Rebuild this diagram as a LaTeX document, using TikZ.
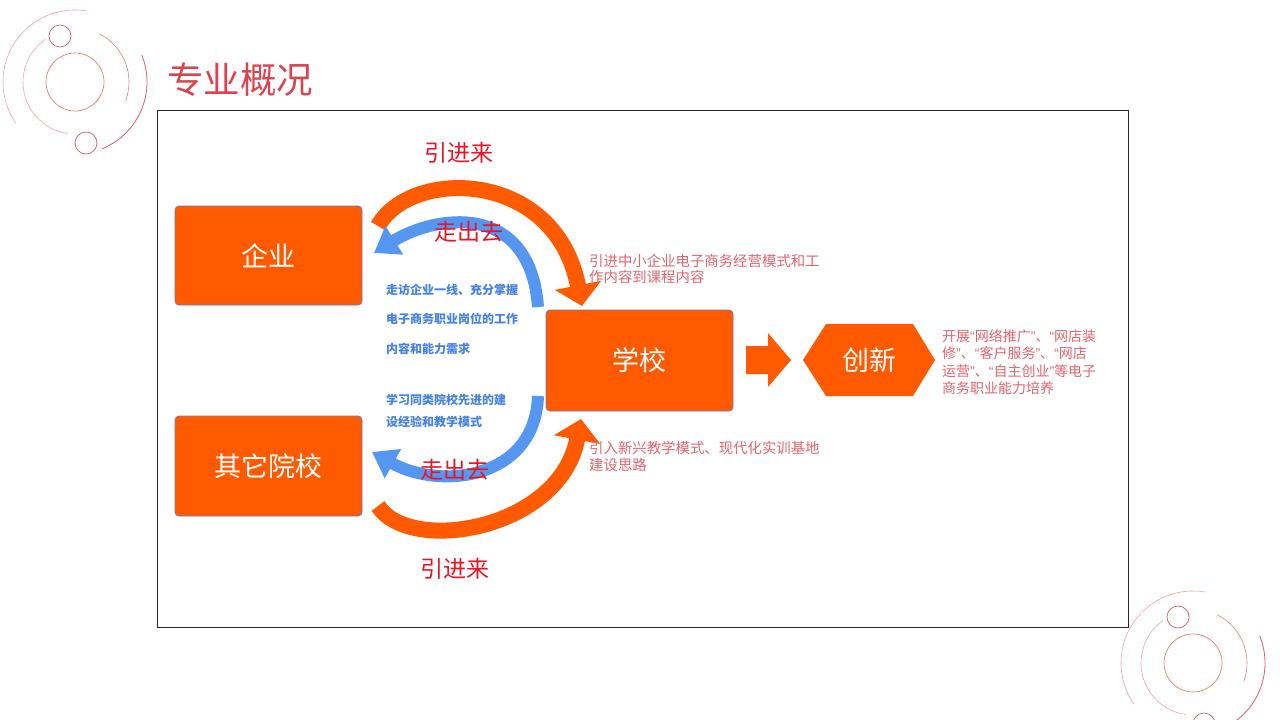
\documentclass[tikz,border=0pt]{standalone}
\usepackage{fontspec}
\setmainfont{Noto Sans CJK SC}
\newfontfamily\lat{Liberation Sans}
\usetikzlibrary{arrows.meta}
\definecolor{orng}{RGB}{255,90,0}
\definecolor{bluA}{RGB}{85,150,240}
\definecolor{bdr}{RGB}{110,120,190}
\definecolor{lblred}{RGB}{235,20,35}
\definecolor{pinktxt}{RGB}{228,100,110}
\definecolor{titlered}{RGB}{222,66,78}
\definecolor{bluetxt}{RGB}{70,130,225}
\definecolor{decocol}{RGB}{215,95,105}
\definecolor{decoinner}{RGB}{235,125,105}
\newcommand{\qq}[1]{{\lat “}#1{\lat ”}}
\begin{document}
\begin{tikzpicture}[x=1pt,y=-1pt,
  box/.style={draw=bdr, line width=0.8pt, fill=orng, rounded corners=4pt, text=white,
    font=\fontsize{27}{30}\selectfont, inner sep=0pt},
  orarrow/.style={draw=orng, line width=16pt, -{Triangle[length=21pt,width=46pt]}},
  blarrow/.style={draw=bluA, line width=12pt, -{Triangle[length=24pt,width=32pt]}},
  biglbl/.style={text=lblred, font=\fontsize{23}{26}\selectfont, inner sep=0pt},
  bluenote/.style={text=bluetxt, font=\fontsize{12}{14}\selectfont\bfseries, inner sep=0pt, anchor=west},
  pinknote/.style={text=pinktxt, font=\fontsize{14.4}{16.8}\selectfont, inner sep=0pt, anchor=west, align=left},
  decopic/.pic={
    \draw[decoinner, line width=0.7pt] (0,0) circle (29pt);
    \draw[decocol, line width=0.7pt] (-15,-46) circle (11pt);
    \draw[decocol, line width=0.7pt] (11,61) circle (11pt);
    \draw[decocol!55, line width=0.6pt] (0,0) ++(80:72pt) arc[start angle=80, end angle=215, radius=72pt];
    \draw[decocol, line width=0.8pt] (0,0) ++(22:72pt) arc[start angle=22, end angle=-68, radius=72pt];
    \draw[decocol!80, line width=0.6pt] (0,0) ++(63:54pt) arc[start angle=63, end angle=-20, radius=54pt];
    \draw[decocol!55, line width=0.6pt] (0,0) ++(125:52pt) arc[start angle=125, end angle=262, radius=52pt];
  }]
\useasboundingbox (0,0) rectangle (1280,720);
\fill[white] (0,0) rectangle (1280,720);

% decorations
\pic at (75,82) {decopic};
\pic at (1193,663) {decopic};

% title
\node[anchor=west, text=titlered, font=\fontsize{36.5}{40}\selectfont, inner sep=0pt] (title) at (167,80) {专业概况};

% frame
\draw[line width=0.8pt, black!85] (157,110) rectangle (1128,627);

% boxes
\node[box, minimum width=187pt, minimum height=99pt] (qy) at (268.5,255.5) {企业};
\node[box, minimum width=187pt, minimum height=100pt] (qt) at (268.5,466) {其它院校};
\node[box, minimum width=187pt, minimum height=101pt] (xx) at (639.5,360.5) {学校};

% block arrow
\fill[orng] (746,346) -- (768,346) -- (768,333) -- (791,360) -- (768,387) -- (768,374) -- (746,374) -- cycle;

% hexagon
\fill[orng] (803,360) -- (826,324) -- (913,324) -- (935,360) -- (913,396) -- (826,396) -- cycle;
\node[text=white, font=\fontsize{27}{30}\selectfont, inner sep=0pt] (cx) at (869,360) {创新};

% connector endpoints
\coordinate (t1) at (378,226);
\coordinate (h1) at (582,306);
\coordinate (t2) at (538,307);
\coordinate (h2) at (374,253);
\coordinate (t3) at (538,396);
\coordinate (h3) at (372,452);
\coordinate (t4) at (378,506);
\coordinate (h4) at (581,419);

% curved arrows
\draw[orarrow] (t1) .. controls (410,168) and (555,168) .. (h1);
\draw[blarrow] (t2) .. controls (530,200) and (435,215) .. (h2);
\draw[blarrow] (t3) .. controls (535,480) and (440,490) .. (h3);
\draw[orarrow] (t4) .. controls (410,555) and (560,530) .. (h4);

% labels
\node[biglbl] (l1) at (459,153) {引进来};
\node[biglbl] (l2) at (469,232) {走出去};
\node[biglbl] (l3) at (455,470) {走出去};
\node[biglbl] (l4) at (455,569) {引进来};

% blue notes
\node[bluenote] (b1) at (386,290) {走访企业一线、充分掌握};
\node[bluenote] (b2) at (386,319) {电子商务职业岗位的工作};
\node[bluenote] (b3) at (386,349) {内容和能力需求};
\node[bluenote] (b4) at (386,400) {学习同类院校先进的建};
\node[bluenote] (b5) at (386,422) {设经验和教学模式};

% pink notes
\node[pinknote] (p1) at (589,269) {引进中小企业电子商务经营模式和工\\作内容到课程内容};
\node[pinknote] (p2) at (589,456.5) {引入新兴教学模式、现代化实训基地\\建设思路};
\node[pinknote, font=\fontsize{14}{17.3}\selectfont] (p3) at (942,362)
  {开展\qq{网络推广}、\qq{网店装\\修}、\qq{客户服务}、\qq{网店\\运营}、\qq{自主创业}等电子\\商务职业能力培养};
\end{tikzpicture}
\end{document}
